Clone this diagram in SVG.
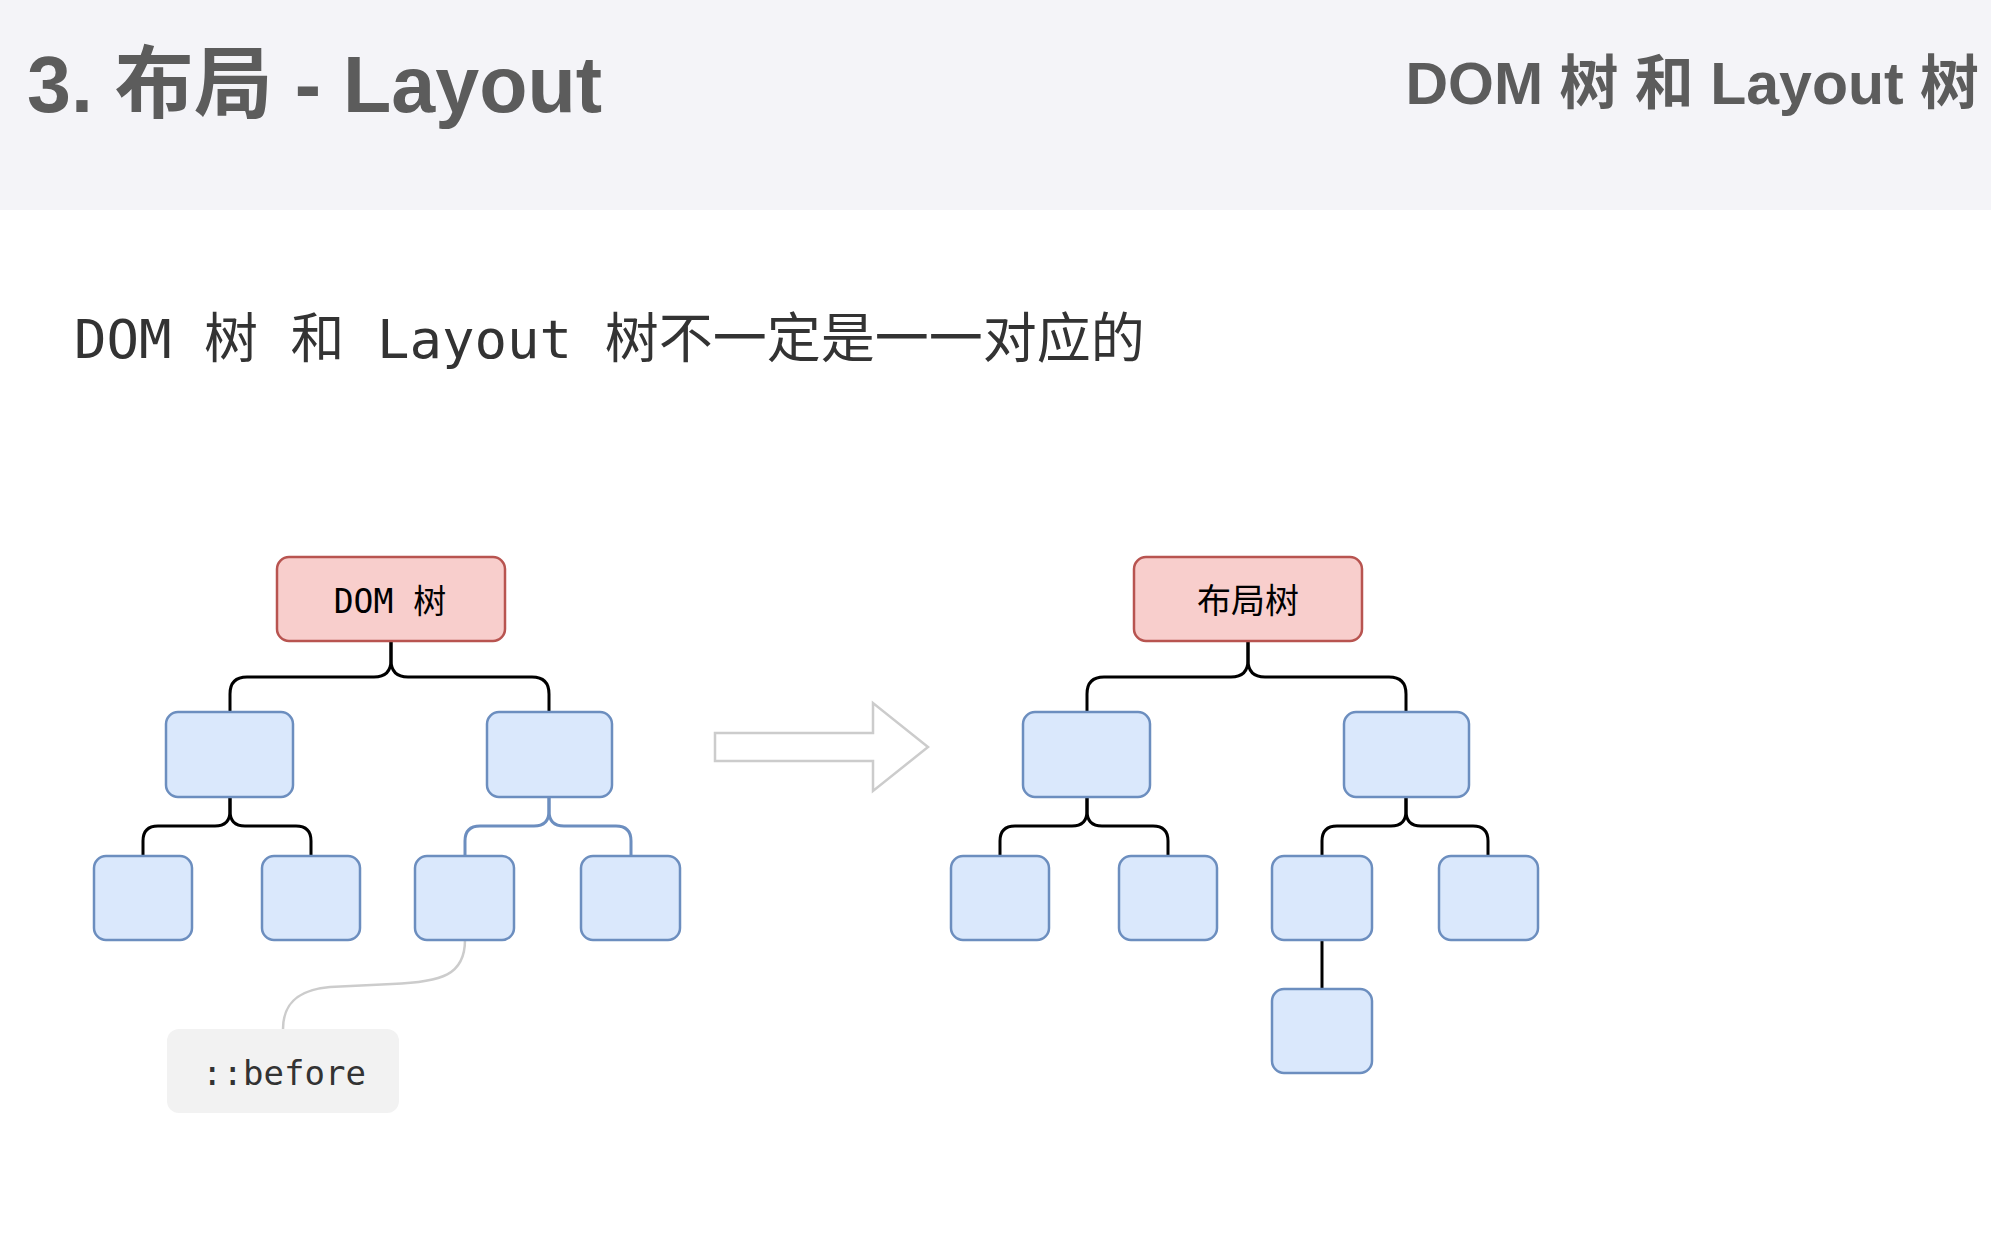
<svg xmlns="http://www.w3.org/2000/svg" width="1991" height="1255" viewBox="0 0 1991 1255">
<style>
.hdr{font-family:"Liberation Sans","Noto Sans CJK SC",sans-serif;font-weight:bold;fill:#5c5c5c}
.mono{font-family:"DejaVu Sans Mono","Noto Sans CJK SC",monospace;fill:#333}
.root{fill:#f8cecc;stroke:#b85450;stroke-width:2.5}
.leaf{fill:#dae8fc;stroke:#6c8ebf;stroke-width:2.5}
.lbl{font-family:"DejaVu Sans Mono","Noto Sans CJK SC",monospace;font-size:33px;fill:#000;text-anchor:middle}
.cb{fill:none;stroke:#000;stroke-width:3}
.cblue{fill:none;stroke:#6c8ebf;stroke-width:3}
</style>
<rect x="0" y="0" width="1991" height="210" fill="#f4f4f8"/>
<rect x="0" y="210" width="1991" height="1045" fill="#ffffff"/>
<text class="hdr" x="27" y="112" font-size="79">3. 布局 - Layout</text>
<text class="hdr" x="1979" y="104" font-size="59" text-anchor="end">DOM 树 和 Layout 树</text>
<text class="mono" x="74" y="358" font-size="54">DOM 树 和 Layout 树不一定是一一对应的</text>

<g id="connectors">
  <!-- left tree -->
  <path class="cb" d="M391,641 V660 Q391,677 374,677 H247 Q230,677 230,694 V712"/>
  <path class="cb" d="M391,641 V660 Q391,677 408,677 H532 Q549,677 549,694 V712"/>
  <path class="cb" d="M230,797 V811 Q230,826 215,826 H158 Q143,826 143,841 V856"/>
  <path class="cb" d="M230,797 V811 Q230,826 245,826 H296 Q311,826 311,841 V856"/>
  <path class="cblue" d="M549,797 V811 Q549,826 534,826 H480 Q465,826 465,841 V856"/>
  <path class="cblue" d="M549,797 V811 Q549,826 564,826 H616 Q631,826 631,841 V856"/>
  <path d="M465,940 C465,975 442,982 392,984 L 330,987 C 296,990 283,1005 283,1029" fill="none" stroke="#cccccc" stroke-width="2.5"/>
  <!-- right tree -->
  <path class="cb" d="M1248,641 V660 Q1248,677 1231,677 H1104 Q1087,677 1087,694 V712"/>
  <path class="cb" d="M1248,641 V660 Q1248,677 1265,677 H1389 Q1406,677 1406,694 V712"/>
  <path class="cb" d="M1087,797 V811 Q1087,826 1072,826 H1015 Q1000,826 1000,841 V856"/>
  <path class="cb" d="M1087,797 V811 Q1087,826 1102,826 H1153 Q1168,826 1168,841 V856"/>
  <path class="cb" d="M1406,797 V811 Q1406,826 1391,826 H1337 Q1322,826 1322,841 V856"/>
  <path class="cb" d="M1406,797 V811 Q1406,826 1421,826 H1473 Q1488,826 1488,841 V856"/>
  <path class="cb" d="M1322,940 V989"/>
</g>

<g id="arrow">
  <path d="M715,733 H873 V703 L928,747 L873,791 V761 H715 Z" fill="#ffffff" stroke="#cccccc" stroke-width="2.5"/>
</g>

<g id="dom-root"><rect class="root" x="277" y="557" width="228" height="84" rx="12"/><text class="lbl" x="390" y="613">DOM 树</text></g>
<g id="dom-l2a"><rect class="leaf" x="166" y="712" width="127" height="85" rx="12"/></g>
<g id="dom-l2b"><rect class="leaf" x="487" y="712" width="125" height="85" rx="12"/></g>
<g id="dom-l3a"><rect class="leaf" x="94" y="856" width="98" height="84" rx="12"/></g>
<g id="dom-l3b"><rect class="leaf" x="262" y="856" width="98" height="84" rx="12"/></g>
<g id="dom-l3c"><rect class="leaf" x="415" y="856" width="99" height="84" rx="12"/></g>
<g id="dom-l3d"><rect class="leaf" x="581" y="856" width="99" height="84" rx="12"/></g>
<g id="before"><rect x="167" y="1029" width="232" height="84" rx="12" fill="#f2f2f2"/><text class="mono" x="284" y="1085" font-size="34" text-anchor="middle">::before</text></g>

<g id="layout-root"><rect class="root" x="1134" y="557" width="228" height="84" rx="12"/><text class="lbl" x="1248" y="613" style="font-family:'Noto Sans CJK SC',sans-serif;font-size:34px">布局树</text></g>
<g id="lay-l2a"><rect class="leaf" x="1023" y="712" width="127" height="85" rx="12"/></g>
<g id="lay-l2b"><rect class="leaf" x="1344" y="712" width="125" height="85" rx="12"/></g>
<g id="lay-l3a"><rect class="leaf" x="951" y="856" width="98" height="84" rx="12"/></g>
<g id="lay-l3b"><rect class="leaf" x="1119" y="856" width="98" height="84" rx="12"/></g>
<g id="lay-l3c"><rect class="leaf" x="1272" y="856" width="100" height="84" rx="12"/></g>
<g id="lay-l3d"><rect class="leaf" x="1439" y="856" width="99" height="84" rx="12"/></g>
<g id="lay-l4"><rect class="leaf" x="1272" y="989" width="100" height="84" rx="12"/></g>
</svg>
